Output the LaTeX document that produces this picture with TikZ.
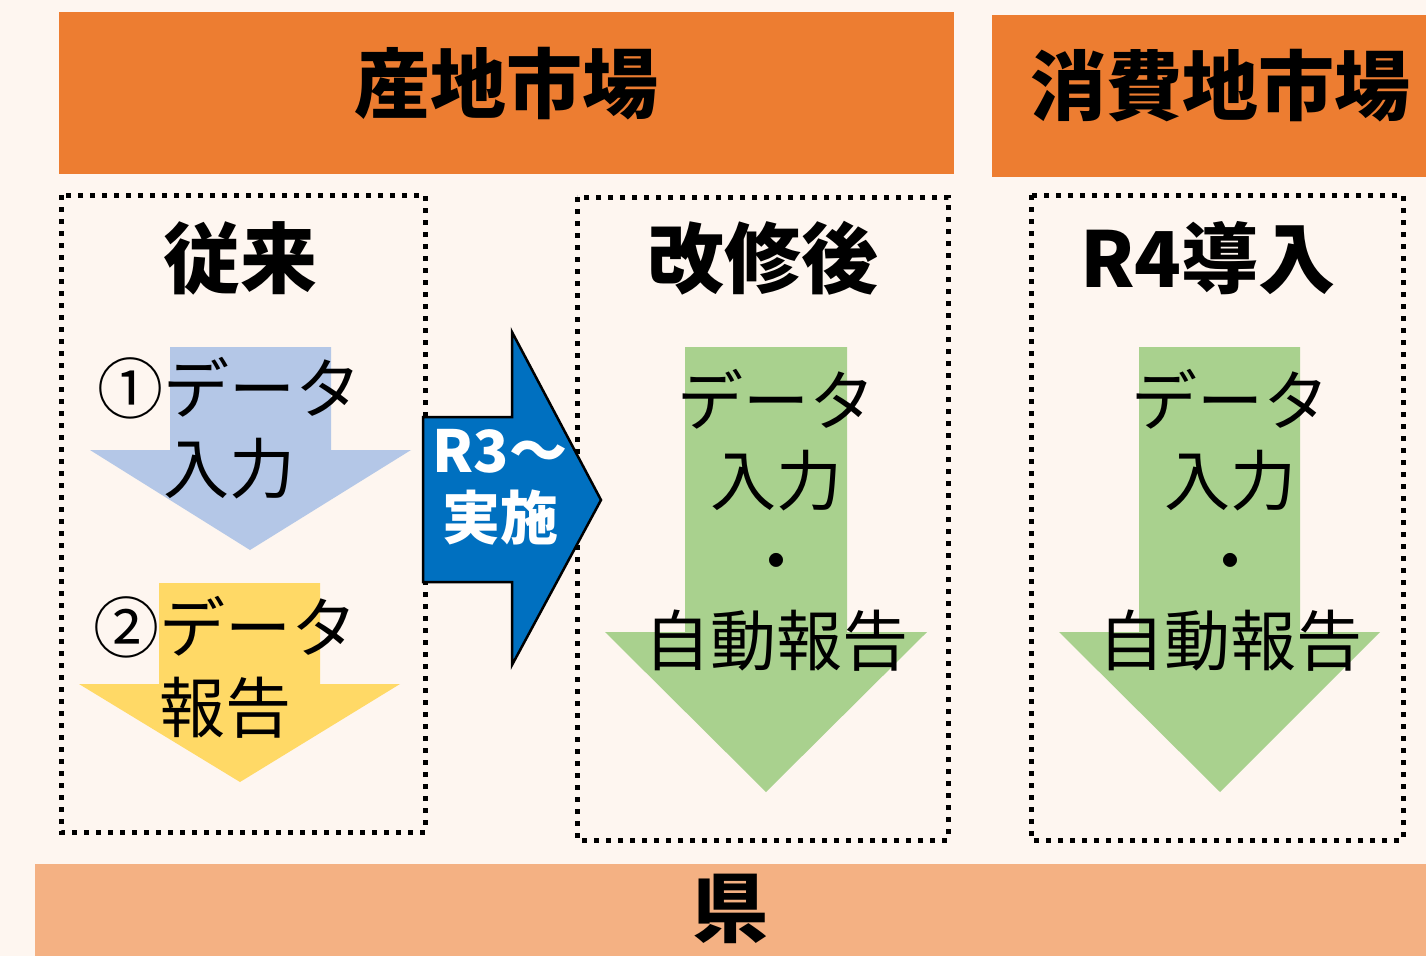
\documentclass[tikz,border=0pt]{standalone}
\usepackage{fontspec}
\newfontfamily\jp{Noto Sans CJK JP}
\definecolor{bgc}{HTML}{FEF6F0}
\definecolor{orng}{HTML}{ED7D31}
\definecolor{lorng}{HTML}{F4B183}
\definecolor{lblue}{HTML}{B4C7E7}
\definecolor{ylw}{HTML}{FFD966}
\definecolor{grn}{HTML}{A9D18E}
\definecolor{dblue}{HTML}{0070C0}
\tikzset{
  dotbox/.style={draw=black, line width=5pt, dash pattern=on 5pt off 7pt},
  hdr/.style={font=\jp\bfseries\fontsize{76}{80}\selectfont, text=black, inner sep=0pt},
  colhdr/.style={font=\jp\bfseries\fontsize{77}{80}\selectfont, text=black, inner sep=0pt},
  body/.style={font=\jp\fontsize{66}{80}\selectfont, text=black, align=center, inner sep=0pt},
}
\begin{document}
\begin{tikzpicture}[x=1pt,y=-1pt]
\useasboundingbox (0,0) rectangle (1426,956);
\fill[bgc] (0,0) rectangle (1426,956);
% top bars
\fill[orng] (59,12) rectangle (954,174);
\fill[orng] (992,15) rectangle (1426,177);
\node[hdr] (sanchi) at (506,84) {産地市場};
\node[hdr] (shohi) at (1220,86) {消費地市場};
% bottom bar
\fill[lorng] (35,864) rectangle (1426,956);
\node[hdr] (ken) at (730,909) {県};
% dotted boxes
\draw[dotbox] (61,195) rectangle (425,832);
\draw[dotbox] (577,197) rectangle (948,840);
\draw[dotbox] (1031,195) rectangle (1403,840);
% column headings
\node[colhdr] (juurai) at (240,258) {従来};
\node[colhdr] (kaishu) at (763,258) {改修後};
\node[colhdr] (r4) at (1208,258) {R4導入};
% arrow 1 (blue)
\fill[lblue] (170,347) -- (331,347) -- (331,450) -- (411,450) -- (250,550) -- (90,450) -- (170,450) -- cycle;
\node[body] (t1) at (229,428) {①データ\\入力};
% arrow 2 (yellow)
\fill[ylw] (159,583) -- (320,583) -- (320,684) -- (400,684) -- (240,782) -- (79,684) -- (159,684) -- cycle;
\node[body] (t2) at (225,667) {②データ\\報告};
% big blue arrow
\filldraw[fill=dblue, draw=black, line width=2.5pt, line join=miter] (423,417) -- (512,417) -- (512,332) -- (601,500) -- (512,665) -- (512,582) -- (423,582) -- cycle;
\node[font=\jp\bfseries\fontsize{58}{67}\selectfont, text=white, align=center, inner sep=0pt] (r3) at (500,487) {R3～\\実施};
% green arrow middle
\fill[grn] (685,347) -- (847,347) -- (847,632) -- (927,632) -- (766,792) -- (605,632) -- (685,632) -- cycle;
\node[body] (t3) at (776,520) {データ\\入力\\・\\自動報告};
% green arrow right
\fill[grn] (1139,347) -- (1300,347) -- (1300,632) -- (1380,632) -- (1220,792) -- (1059,632) -- (1139,632) -- cycle;
\node[body] (t4) at (1230,520) {データ\\入力\\・\\自動報告};
\end{tikzpicture}
\end{document}
